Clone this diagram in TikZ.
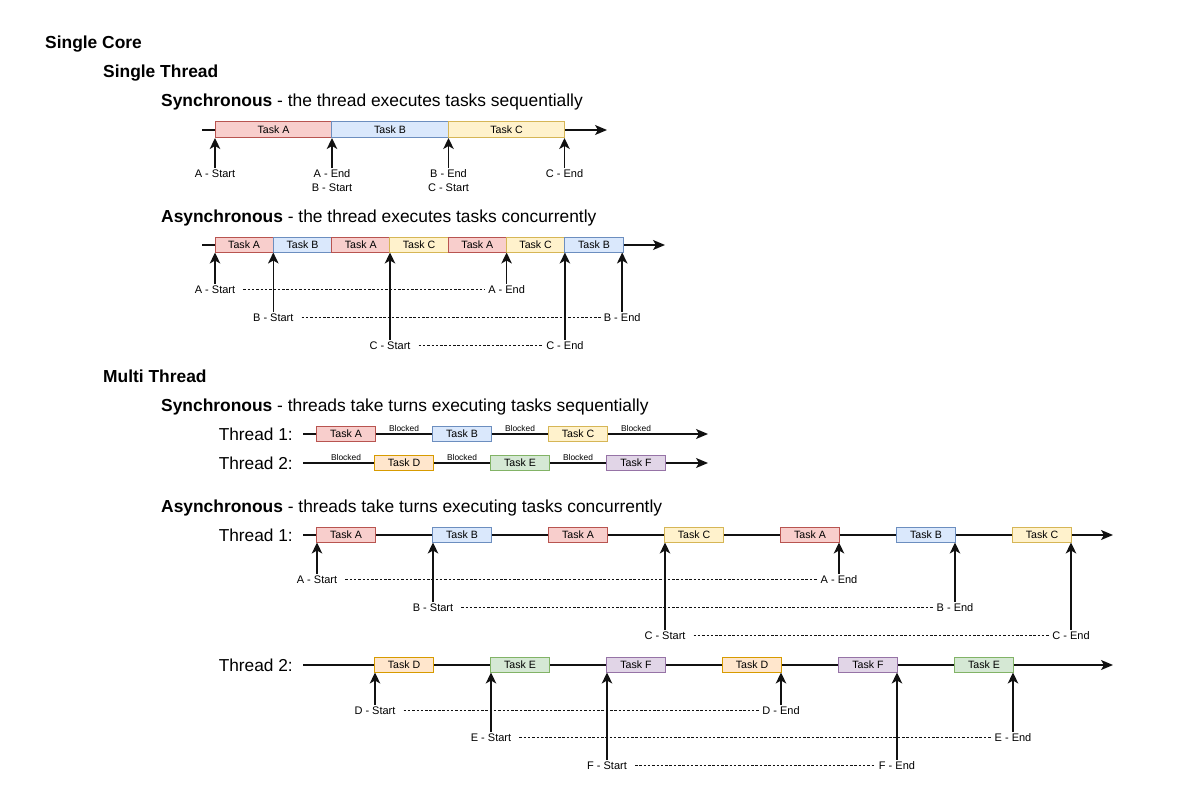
\documentclass[tikz,border=0pt]{standalone}
\usepackage{fontspec}
\setmainfont{Liberation Sans}
\usetikzlibrary{arrows.meta}
\definecolor{rf}{HTML}{F8CECC}\definecolor{rd}{HTML}{B85450}
\definecolor{bf}{HTML}{DAE8FC}\definecolor{bd}{HTML}{6C8EBF}
\definecolor{yf}{HTML}{FFF2CC}\definecolor{yd}{HTML}{D6B656}
\definecolor{of}{HTML}{FFE6CC}\definecolor{od}{HTML}{D79B00}
\definecolor{gf}{HTML}{D5E8D4}\definecolor{gd}{HTML}{82B366}
\definecolor{pf}{HTML}{E1D5E7}\definecolor{pd}{HTML}{9673A6}
\definecolor{ln}{HTML}{111111}
\tikzset{
  task/.style={draw, line width=1pt, minimum height=15pt, minimum width=58.3pt,
    inner sep=0pt, outer sep=0pt, font=\fontsize{10.6}{12}\selectfont},
  tr/.style={fill=rf, draw=rd}, tb/.style={fill=bf, draw=bd},
  ty/.style={fill=yf, draw=yd}, to/.style={fill=of, draw=od},
  tg/.style={fill=gf, draw=gd}, tp/.style={fill=pf, draw=pd},
  lbl/.style={font=\fontsize{11}{14}\selectfont, inner sep=1pt, anchor=north,
    text height=8pt, text depth=0.5pt},
  lbltwo/.style={font=\fontsize{11}{14}\selectfont, inner sep=1pt, align=center, anchor=north},
  hd/.style={font=\fontsize{17.4}{20}\selectfont\bfseries, anchor=west, inner sep=0pt,
    text height=12.5pt, text depth=3.5pt},
  sub/.style={font=\fontsize{17.4}{20}\selectfont, anchor=west, inner sep=0pt,
    text height=12.5pt, text depth=3.5pt},
  thr/.style={font=\fontsize{17.3}{20}\selectfont, anchor=east, inner sep=0pt,
    text height=12.5pt, text depth=3.5pt},
  tl/.style={draw=ln, line width=1.4pt, -{Stealth[length=12pt,width=10pt,inset=3pt]}},
  up/.style={draw=ln, line width=1.5pt, -{Stealth[length=11pt,width=10.5pt,inset=3pt]}},
  dsh/.style={draw=ln, line width=0.7pt, dash pattern=on 2.5pt off 1.8pt, shorten <=7pt, shorten >=2pt},
  blk/.style={font=\fontsize{8.4}{10}\selectfont, anchor=south, inner sep=1pt},
}
\begin{document}
\begin{tikzpicture}[x=1pt,y=-1pt]
\useasboundingbox (0,0) rectangle (1189,810);

% headings
\node[hd] (sc) at (45,44) {Single Core};
\node[hd] (st) at (103,73) {Single Thread};
\node[sub] (h1) at (161,102) {\textbf{Synchronous} - the thread executes tasks sequentially};
\node[sub] (h2) at (161,218) {\textbf{Asynchronous} - the thread executes tasks concurrently};
\node[hd] (mt) at (103,378) {Multi Thread};
\node[sub] (h3) at (161,407) {\textbf{Synchronous} - threads take turns executing tasks sequentially};
\node[sub] (h4) at (161,508) {\textbf{Asynchronous} - threads take turns executing tasks concurrently};

% ---------- single thread, synchronous ----------
\coordinate (l1s) at (202,130); \coordinate (l1e) at (607,130);
\draw[tl] (l1s) -- (l1e);
\node[task,tr,minimum width=116.5pt,minimum height=16pt] (sa) at (273.5,130) {Task A};
\node[task,tb,minimum width=116.5pt,minimum height=16pt] (sb) at (390,130) {Task B};
\node[task,ty,minimum width=116.5pt,minimum height=16pt] (scc) at (506.5,130) {Task C};
\node[lbl] (sl1) at (215,168) {A - Start};
\node[lbltwo] (sl2) at (332,168.5) {A - End\\B - Start};
\node[lbltwo] (sl3) at (448.5,168.5) {B - End\\C - Start};
\node[lbl] (sl4) at (564.5,168) {C - End};
\draw[up] (sl1.north) -- (sl1.north |- sa.south);
\draw[up] (sl2.north) -- (sl2.north |- sa.south);
\draw[up] (sl3.north) -- (sl3.north |- sb.south);
\draw[up] (sl4.north) -- (sl4.north |- scc.south);

% ---------- single thread, asynchronous ----------
\coordinate (l2s) at (202,245); \coordinate (l2e) at (665,245);
\draw[tl] (l2s) -- (l2e);
\node[task,tr] (a1) at (244.15,245) {Task A};
\node[task,tb] (a2) at (302.45,245) {Task B};
\node[task,tr] (a3) at (360.75,245) {Task A};
\node[task,ty] (a4) at (419.05,245) {Task C};
\node[task,tr] (a5) at (477.35,245) {Task A};
\node[task,ty] (a6) at (535.65,245) {Task C};
\node[task,tb] (a7) at (593.95,245) {Task B};
\node[lbl] (as) at (215,284) {A - Start};
\node[lbl] (ae) at (506.6,284) {A - End};
\node[lbl] (bs) at (273.3,312) {B - Start};
\node[lbl] (be) at (622.2,312) {B - End};
\node[lbl] (cs) at (390,340) {C - Start};
\node[lbl] (ce) at (564.9,340) {C - End};
\draw[up] (as.north) -- (as.north |- a1.south);
\draw[up] (ae.north) -- (ae.north |- a1.south);
\draw[up] (bs.north) -- (bs.north |- a1.south);
\draw[up] (be.north) -- (be.north |- a1.south);
\draw[up] (cs.north) -- (cs.north |- a1.south);
\draw[up] (ce.north) -- (ce.north |- a1.south);
\draw[dsh] (as.east) -- (ae.west);
\draw[dsh] (bs.east) -- (be.west);
\draw[dsh] (cs.east) -- (ce.west);

% ---------- multi thread, synchronous ----------
\node[thr] (t1) at (293,435.5) {Thread 1:};
\node[thr] (t2) at (293,464.5) {Thread 2:};
\coordinate (m1s) at (303,434); \coordinate (m1e) at (708,434);
\coordinate (m2s) at (303,463); \coordinate (m2e) at (708,463);
\draw[tl] (m1s) -- (m1e);
\draw[tl] (m2s) -- (m2e);
\node[task,tr] (ma) at (346,434) {Task A};
\node[task,tb] (mb) at (462,434) {Task B};
\node[task,ty] (mc) at (578,434) {Task C};
\node[task,to] (md) at (404,463) {Task D};
\node[task,tg] (me) at (520,463) {Task E};
\node[task,tp] (mf) at (636,463) {Task F};
\node[blk] (b1) at (404,433) {Blocked};
\node[blk] (b2) at (520,433) {Blocked};
\node[blk] (b3) at (636,433) {Blocked};
\node[blk] (b4) at (346,462) {Blocked};
\node[blk] (b5) at (462,462) {Blocked};
\node[blk] (b6) at (578,462) {Blocked};

% ---------- multi thread, asynchronous: thread 1 ----------
\node[thr] (t3) at (293,536.5) {Thread 1:};
\coordinate (n1s) at (303,535); \coordinate (n1e) at (1113,535);
\draw[tl] (n1s) -- (n1e);
\node[task,tr] (p1) at (346,535) {Task A};
\node[task,tb] (p2) at (462,535) {Task B};
\node[task,tr] (p3) at (578,535) {Task A};
\node[task,ty] (p4) at (694,535) {Task C};
\node[task,tr] (p5) at (810,535) {Task A};
\node[task,tb] (p6) at (926,535) {Task B};
\node[task,ty] (p7) at (1042,535) {Task C};
\node[lbl] (pas) at (317,574) {A - Start};
\node[lbl] (pae) at (839,574) {A - End};
\node[lbl] (pbs) at (433,602) {B - Start};
\node[lbl] (pbe) at (955,602) {B - End};
\node[lbl] (pcs) at (665,630) {C - Start};
\node[lbl] (pce) at (1071,630) {C - End};
\draw[up] (pas.north) -- (pas.north |- p1.south);
\draw[up] (pae.north) -- (pae.north |- p1.south);
\draw[up] (pbs.north) -- (pbs.north |- p1.south);
\draw[up] (pbe.north) -- (pbe.north |- p1.south);
\draw[up] (pcs.north) -- (pcs.north |- p1.south);
\draw[up] (pce.north) -- (pce.north |- p1.south);
\draw[dsh] (pas.east) -- (pae.west);
\draw[dsh] (pbs.east) -- (pbe.west);
\draw[dsh] (pcs.east) -- (pce.west);

% ---------- multi thread, asynchronous: thread 2 ----------
\node[thr] (t4) at (293,666.5) {Thread 2:};
\coordinate (n2s) at (303,665); \coordinate (n2e) at (1113,665);
\draw[tl] (n2s) -- (n2e);
\node[task,to] (q1) at (404,665) {Task D};
\node[task,tg] (q2) at (520,665) {Task E};
\node[task,tp] (q3) at (636,665) {Task F};
\node[task,to] (q4) at (752,665) {Task D};
\node[task,tp] (q5) at (868,665) {Task F};
\node[task,tg] (q6) at (984,665) {Task E};
\node[lbl] (qds) at (375,705) {D - Start};
\node[lbl] (qde) at (781,705) {D - End};
\node[lbl] (qes) at (491,732) {E - Start};
\node[lbl] (qee) at (1013,732) {E - End};
\node[lbl] (qfs) at (607,760) {F - Start};
\node[lbl] (qfe) at (897,760) {F - End};
\draw[up] (qds.north) -- (qds.north |- q1.south);
\draw[up] (qde.north) -- (qde.north |- q1.south);
\draw[up] (qes.north) -- (qes.north |- q1.south);
\draw[up] (qee.north) -- (qee.north |- q1.south);
\draw[up] (qfs.north) -- (qfs.north |- q1.south);
\draw[up] (qfe.north) -- (qfe.north |- q1.south);
\draw[dsh] (qds.east) -- (qde.west);
\draw[dsh] (qes.east) -- (qee.west);
\draw[dsh] (qfs.east) -- (qfe.west);
\end{tikzpicture}
\end{document}
